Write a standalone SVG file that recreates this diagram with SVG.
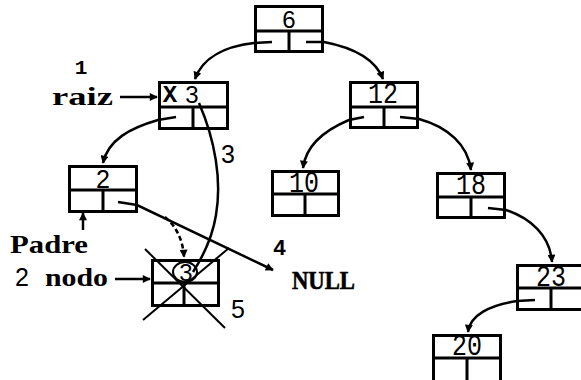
<svg xmlns="http://www.w3.org/2000/svg" width="581" height="380" viewBox="0 0 581 380">
<style>
.box{fill:#fff;stroke:#000;stroke-width:3}
.ln{stroke:#000;stroke-width:3;fill:none}
.c{stroke:#000;stroke-width:2.5;fill:none}
.cross{stroke:#000;stroke-width:2;fill:none}
.mono{font-family:"Liberation Mono","Courier New",monospace;fill:#000}
.serif{font-family:"Liberation Serif","Times New Roman",serif;font-weight:bold;fill:#000}
.b{font-weight:bold}
.sans{font-family:"Liberation Sans",Arial,sans-serif;fill:#000}
</style>
<defs>
<marker id="ah" viewBox="0 0 10 10" refX="9" refY="5" markerWidth="9" markerHeight="8" markerUnits="userSpaceOnUse" orient="auto"><path d="M0,0 L10,5 L0,10 z" fill="#000"/></marker>
</defs>
<rect width="581" height="380" fill="#fff"/>

<g id="node6">
<rect class="box" x="255.5" y="6.5" width="67" height="45"/>
<line class="ln" x1="254" y1="31" x2="324" y2="31"/>
<line class="ln" x1="289" y1="31" x2="289" y2="53"/>
<text class="sans" x="289" y="28" font-size="24" text-anchor="middle">6</text>
</g>

<g id="node3">
<rect class="box" x="159.5" y="82.5" width="68" height="46"/>
<line class="ln" x1="158" y1="107" x2="229" y2="107"/>
<line class="ln" x1="193" y1="107" x2="193" y2="130"/>
<text class="mono b" x="170" y="102" font-size="24" text-anchor="middle">X</text>
<text class="sans" x="192" y="103" font-size="24" text-anchor="middle">3</text>
</g>

<g id="node12">
<rect class="box" x="350.5" y="82.5" width="67" height="45"/>
<line class="ln" x1="349" y1="107" x2="419" y2="107"/>
<line class="ln" x1="384" y1="107" x2="384" y2="129"/>
<text class="mono" transform="translate(383,103) scale(1,1.15)" font-size="25" text-anchor="middle">12</text>
</g>

<g id="node2">
<rect class="box" x="69.5" y="166.5" width="67" height="45"/>
<line class="ln" x1="68" y1="190" x2="138" y2="190"/>
<line class="ln" x1="103" y1="190" x2="103" y2="213"/>
<text class="sans" x="103" y="188" font-size="25" text-anchor="middle">2</text>
</g>

<g id="node10">
<rect class="box" x="272.5" y="171.5" width="66" height="44"/>
<line class="ln" x1="271" y1="194" x2="340" y2="194"/>
<line class="ln" x1="305" y1="194" x2="305" y2="217"/>
<text class="mono" transform="translate(304,192) scale(1,1.2)" font-size="25" text-anchor="middle">10</text>
</g>

<g id="node18">
<rect class="box" x="437.5" y="173.5" width="67" height="44"/>
<line class="ln" x1="436" y1="197" x2="506" y2="197"/>
<line class="ln" x1="471" y1="197" x2="471" y2="219"/>
<text class="mono" transform="translate(471,194) scale(1,1.2)" font-size="25" text-anchor="middle">18</text>
</g>

<g id="node23">
<rect class="box" x="517.5" y="265.5" width="67" height="44"/>
<line class="ln" x1="516" y1="288" x2="586" y2="288"/>
<line class="ln" x1="551" y1="288" x2="551" y2="311"/>
<text class="mono" transform="translate(551,286) scale(1,1.15)" font-size="25" text-anchor="middle">23</text>
</g>

<g id="node20">
<rect class="box" x="433.5" y="335.5" width="67" height="46"/>
<line class="ln" x1="432" y1="358" x2="502" y2="358"/>
<line class="ln" x1="467" y1="358" x2="467" y2="382"/>
<text class="mono" transform="translate(467,355) scale(1,1.15)" font-size="25" text-anchor="middle">20</text>
</g>

<g id="nodeDeleted">
<rect class="box" x="152.5" y="260.5" width="66" height="45"/>
<line class="ln" x1="151" y1="283" x2="220" y2="283"/>
<line class="ln" x1="184" y1="283" x2="184" y2="307"/>
<ellipse cx="185" cy="272" rx="12" ry="10" fill="none" stroke="#000" stroke-width="2"/>
<text class="sans" x="186" y="281" font-size="24" text-anchor="middle">3</text>
<line class="cross" x1="145" y1="249" x2="225" y2="328"/>
<line class="cross" x1="143" y1="320" x2="229" y2="248"/>
</g>

<g id="connectors">
<path class="c" d="M272,42 L254,43 C228,46 203,56 195,79" marker-end="url(#ah)"/>
<path class="c" d="M306,42 L324,42 C350,47 375,58 383,79" marker-end="url(#ah)"/>
<path class="c" d="M176,117 L158,120 C130,128 108,140 103,163" marker-end="url(#ah)"/>
<path class="c" d="M364,117 L349,120 C325,130 306,145 303,168" marker-end="url(#ah)"/>
<path class="c" d="M400,117 L419,119 C448,127 468,145 471,170" marker-end="url(#ah)"/>
<path class="c" d="M488,208 L506,210 C530,218 550,235 552,262" marker-end="url(#ah)"/>
<path class="c" d="M535,300 L517,301 C490,305 470,315 468,332" marker-end="url(#ah)"/>
<path class="c" d="M118,202 L137,205 L273,270" marker-end="url(#ah)"/>
<path class="c" d="M199,103 C215,140 222,180 216,215 C212,240 202,258 193,272"/>
<path class="c" d="M165,217 C176,226 183,240 184,257" stroke-dasharray="5,3" marker-end="url(#ah)"/>
<path class="c" d="M120,97 L157,97" marker-end="url(#ah)"/>
<path class="c" d="M83,230 L83,213" marker-end="url(#ah)"/>
<path class="c" d="M115,279 L150,279" marker-end="url(#ah)"/>
</g>

<g id="labels">
<text class="mono b" x="81" y="74" font-size="21" text-anchor="middle">1</text>
<text class="serif" x="52" y="105" font-size="26" textLength="61" lengthAdjust="spacingAndGlyphs">raiz</text>
<text class="serif" x="10" y="253" font-size="25" textLength="78" lengthAdjust="spacingAndGlyphs">Padre</text>
<text class="sans" x="15" y="286" font-size="25">2</text>
<text class="serif" x="45" y="286" font-size="26" textLength="63" lengthAdjust="spacingAndGlyphs">nodo</text>
<text class="serif" x="292" y="289" font-size="25" textLength="63" lengthAdjust="spacingAndGlyphs" stroke="#000" stroke-width="0.6">NULL</text>
<text class="mono b" x="273" y="255" font-size="22">4</text>
<text class="sans" x="221" y="163" font-size="25">3</text>
<text class="sans" x="231" y="318" font-size="25">5</text>
</g>
</svg>
